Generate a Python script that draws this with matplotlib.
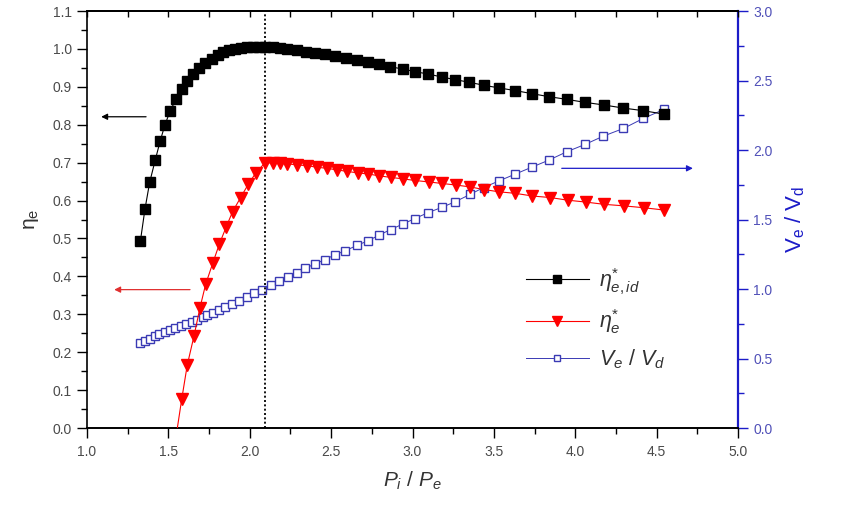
import matplotlib
matplotlib.use("Agg")
import matplotlib.pyplot as plt
from matplotlib.ticker import MultipleLocator, NullFormatter

plt.rcParams['font.family'] = ['Liberation Sans', 'DejaVu Sans']
plt.rcParams['mathtext.fontset'] = 'custom'
plt.rcParams['mathtext.rm'] = 'Liberation Sans'
plt.rcParams['mathtext.it'] = 'Liberation Sans:italic'
plt.rcParams['mathtext.bf'] = 'Liberation Sans:bold'

# ---- data ----
x_eta_id = [1.328, 1.356, 1.385, 1.420, 1.449, 1.479, 1.510, 1.547, 1.582, 1.614,
            1.653, 1.688, 1.725, 1.766, 1.803, 1.838, 1.873, 1.909, 1.946, 1.981,
            2.018, 2.055, 2.094, 2.140, 2.185, 2.230, 2.288, 2.346, 2.401, 2.462,
            2.524, 2.591, 2.657, 2.725, 2.792, 2.862, 2.940, 3.015, 3.093, 3.179,
            3.261, 3.349, 3.439, 3.533, 3.632, 3.734, 3.838, 3.947, 4.060, 4.177,
            4.295, 4.418, 4.545]
eta_id = [0.493, 0.577, 0.648, 0.708, 0.756, 0.800, 0.835, 0.868, 0.894, 0.916,
          0.934, 0.949, 0.962, 0.974, 0.984, 0.991, 0.997, 1.001, 1.003, 1.005,
          1.006, 1.006, 1.006, 1.005, 1.003, 1.000, 0.997, 0.993, 0.988, 0.986,
          0.981, 0.977, 0.971, 0.965, 0.959, 0.953, 0.947, 0.940, 0.934, 0.926,
          0.919, 0.912, 0.904, 0.897, 0.890, 0.882, 0.874, 0.867, 0.859, 0.852,
          0.844, 0.837, 0.828]

x_eta = [1.548, 1.582, 1.616, 1.657, 1.694, 1.729, 1.772, 1.813, 1.854, 1.895,
         1.944, 1.991, 2.036, 2.094, 2.140, 2.185, 2.230, 2.288, 2.350, 2.411,
         2.473, 2.534, 2.596, 2.663, 2.729, 2.797, 2.868, 2.944, 3.015, 3.101,
         3.183, 3.265, 3.353, 3.439, 3.533, 3.632, 3.736, 3.845, 3.953, 4.064,
         4.178, 4.299, 4.422, 4.545]
eta = [-0.02, 0.076, 0.166, 0.242, 0.317, 0.379, 0.434, 0.485, 0.529, 0.571,
       0.608, 0.643, 0.672, 0.700, 0.699, 0.698, 0.697, 0.694, 0.692, 0.688,
       0.685, 0.681, 0.677, 0.673, 0.670, 0.665, 0.661, 0.657, 0.653, 0.649,
       0.645, 0.641, 0.636, 0.629, 0.623, 0.619, 0.612, 0.608, 0.601, 0.596,
       0.590, 0.586, 0.581, 0.575]

x_v = [1.328, 1.359, 1.388, 1.416, 1.445, 1.478, 1.510, 1.543, 1.576, 1.608,
       1.645, 1.678, 1.711, 1.739, 1.772, 1.809, 1.848, 1.889, 1.932, 1.981,
       2.026, 2.073, 2.128, 2.182, 2.237, 2.288, 2.339, 2.401, 2.462, 2.524,
       2.585, 2.657, 2.725, 2.794, 2.866, 2.940, 3.015, 3.093, 3.179, 3.261,
       3.353, 3.437, 3.530, 3.632, 3.734, 3.838, 3.947, 4.060, 4.173, 4.296,
       4.418, 4.545]
v_ratio = [0.608, 0.627, 0.641, 0.660, 0.675, 0.691, 0.703, 0.718, 0.732, 0.747,
           0.761, 0.778, 0.799, 0.814, 0.828, 0.850, 0.869, 0.891, 0.912, 0.939,
           0.968, 0.996, 1.030, 1.054, 1.085, 1.112, 1.150, 1.179, 1.212, 1.246,
           1.274, 1.313, 1.346, 1.387, 1.428, 1.467, 1.507, 1.548, 1.587, 1.627,
           1.680, 1.730, 1.777, 1.827, 1.877, 1.927, 1.987, 2.040, 2.100, 2.155,
           2.227, 2.292]

x_opt = 2.094

BLUE_AX = '#1c1cc8'
BLUE_MK = '#3a3ab4'
GRAY = '#4a4a4a'

fig = plt.figure(figsize=(8.44, 5.18), dpi=100)
ax = fig.add_axes([87/844, 1-428/518, (738-87)/844, (428-11)/518])
ax2 = ax.twinx()

l1, = ax.plot(x_eta_id, eta_id, color='black', lw=0.8, marker='s', ms=6.5,
              mec='black', mfc='black', label=r'$\eta^{*}_{e,id}$', zorder=3)
l2, = ax.plot(x_eta, eta, color='red', lw=0.8, marker='v', ms=8.5,
              mec='red', mfc='red', markevery=list(range(1, len(x_eta))),
              label=r'$\eta^{*}_{e}$', zorder=3)
l3, = ax2.plot(x_v, v_ratio, color=BLUE_MK, lw=0.7, marker='s', ms=5.2,
               mec=BLUE_MK, mfc='white', mew=1.0, label=r'$V_e\ /\ V_d$', zorder=3)

ax.axvline(x_opt, color='black', ls=(0, (1.1, 1.3)), lw=1.3, zorder=2)

ax.set_xlim(1.0, 5.0)
ax.set_ylim(0.0, 1.1)
ax2.set_ylim(0.0, 3.0)

ax.xaxis.set_major_locator(MultipleLocator(0.5))
ax.xaxis.set_minor_locator(MultipleLocator(0.25))
ax.yaxis.set_major_locator(MultipleLocator(0.1))
ax.yaxis.set_minor_locator(MultipleLocator(0.05))
ax2.yaxis.set_major_locator(MultipleLocator(0.5))
ax2.yaxis.set_minor_locator(MultipleLocator(0.25))

ax.xaxis.set_major_formatter(plt.FormatStrFormatter('%.1f'))
ax.yaxis.set_major_formatter(plt.FormatStrFormatter('%.1f'))
ax2.yaxis.set_major_formatter(plt.FormatStrFormatter('%.1f'))

ax.tick_params(axis='x', which='major', direction='out', length=7, width=1.0,
               colors='black', labelcolor=GRAY, labelsize=10, pad=5)
ax.tick_params(axis='x', which='minor', direction='out', length=4, width=1.0)
ax.tick_params(axis='y', which='major', direction='out', length=7, width=1.0,
               labelcolor=GRAY, labelsize=10, pad=4)
ax.tick_params(axis='y', which='minor', direction='out', length=4, width=1.0)
ax2.tick_params(axis='y', which='major', direction='out', length=7, width=1.0,
                colors=BLUE_AX, labelcolor='#5050b8', labelsize=10, pad=4)
ax2.tick_params(axis='y', which='minor', direction='out', length=4, width=1.0,
                colors=BLUE_AX)

# top axis: inward ticks, no labels
top = ax.secondary_xaxis('top')
top.xaxis.set_major_locator(MultipleLocator(0.5))
top.xaxis.set_minor_locator(MultipleLocator(0.25))
top.xaxis.set_major_formatter(NullFormatter())
top.tick_params(axis='x', which='both', direction='in', length=4, width=1.0)
top.spines['top'].set_linewidth(1.2)

for s in ['left', 'bottom', 'top']:
    ax.spines[s].set_linewidth(1.2)
ax2.spines['right'].set_color(BLUE_AX)
ax2.spines['right'].set_linewidth(1.6)
ax.spines['right'].set_visible(False)
ax2.spines['left'].set_visible(False)
ax2.spines['top'].set_linewidth(1.2)
ax2.spines['bottom'].set_linewidth(1.2)

ax.set_xlabel(r'$P_i\ /\ P_e$', fontsize=15, color='#333333', labelpad=8)
ax.set_ylabel(r'$\mathrm{\eta_e}$', fontsize=15, color='#333333', labelpad=8)
ax2.set_ylabel(r'$\mathrm{V_e\ /\ V_d}$', fontsize=16, color=BLUE_AX, labelpad=8)

# arrows indicating axes
ax.annotate('', xy=(1.07, 0.821), xytext=(1.38, 0.821),
            arrowprops=dict(arrowstyle='-|>', color='black', lw=0.9,
                            mutation_scale=9))
ax.annotate('', xy=(1.15, 0.365), xytext=(1.65, 0.365),
            arrowprops=dict(arrowstyle='-|>', color='#e03030', lw=0.9,
                            mutation_scale=9))
ax.annotate('', xy=(4.74, 0.685), xytext=(3.90, 0.685),
            arrowprops=dict(arrowstyle='-|>', color=BLUE_AX, lw=0.9,
                            mutation_scale=9))

leg = ax.legend(handles=[l1, l2, l3], loc='upper left',
                bbox_to_anchor=(0.645, 0.435), frameon=False, fontsize=15.5,
                handlelength=2.9, handletextpad=0.5, labelspacing=0.5,
                markerscale=0.8)
for t in leg.get_texts():
    t.set_color('#333333')

ax.set_zorder(ax2.get_zorder() + 1)
ax.patch.set_visible(False)

fig.savefig('out.png', dpi=100)
